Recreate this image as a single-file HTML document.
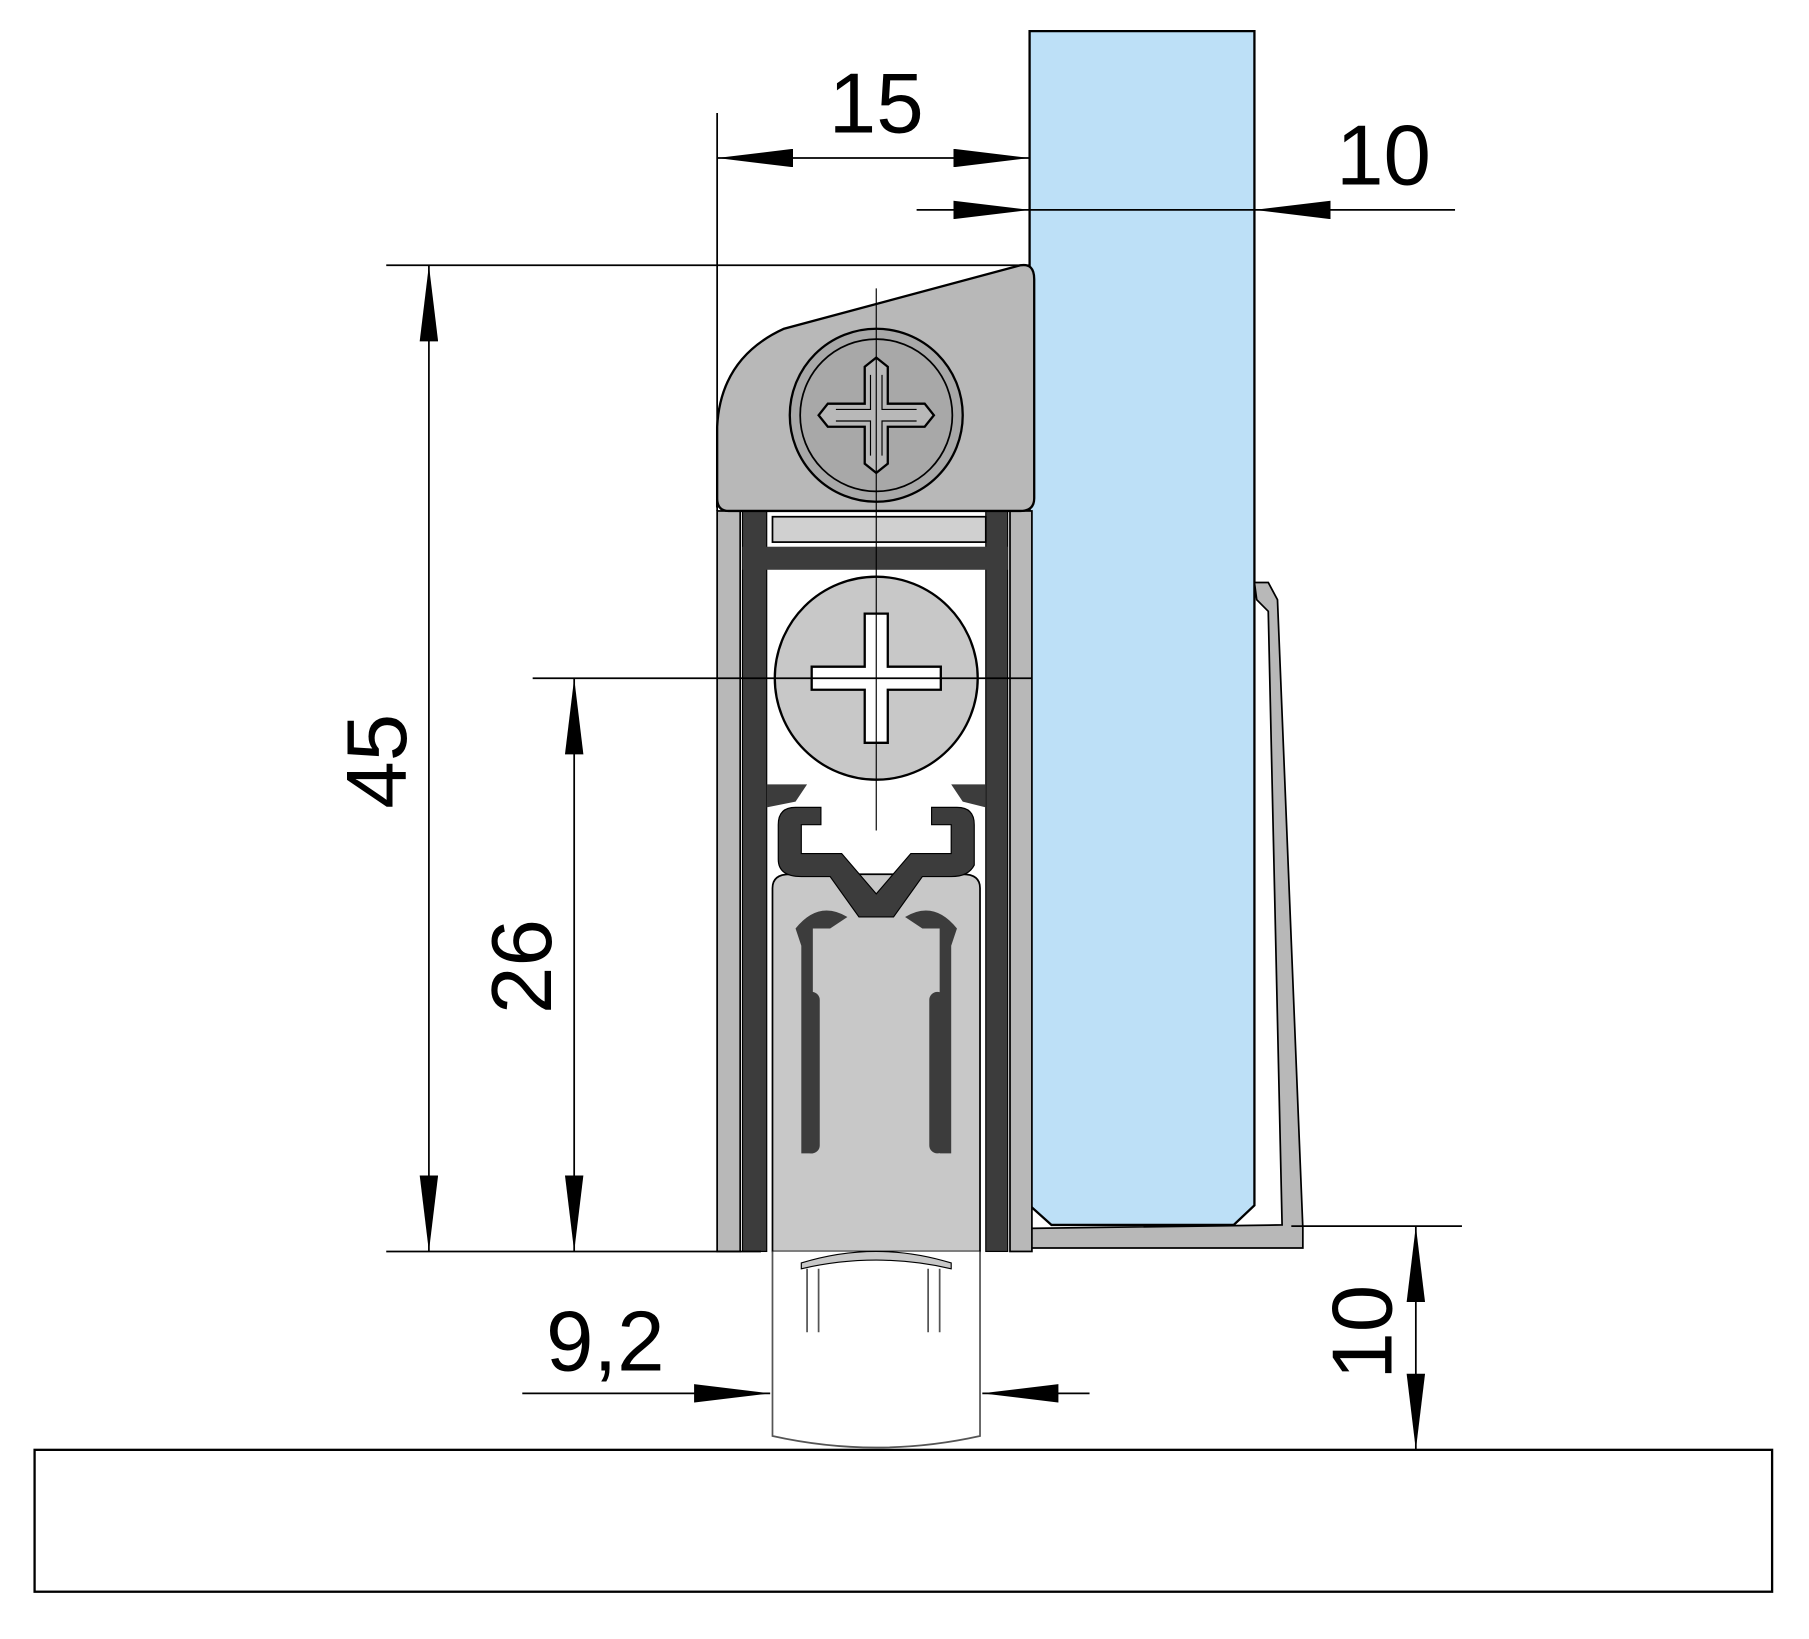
<!DOCTYPE html>
<html><head><meta charset="utf-8"><style>
html,body{margin:0;padding:0;background:#fff}
svg{display:block}
text{font-family:"Liberation Sans",sans-serif;font-size:74px;fill:#000}
</style></head><body>
<svg width="1809" height="1639" viewBox="0 0 1569 1421" preserveAspectRatio="none" xmlns="http://www.w3.org/2000/svg">
<defs>
<marker id="a" viewBox="0 0 66 16" refX="66" refY="8" markerWidth="66" markerHeight="16" markerUnits="userSpaceOnUse" orient="auto-start-reverse"><path d="M0,0 L66,8 L0,16 z" fill="#000"/></marker>
</defs>
<rect x="30" y="1257" width="1507" height="123" fill="#fff" stroke="#000" stroke-width="2"/>
<path d="M893,27 H1088 V1045 L1070,1062 H912 L893,1045 Z" fill="#bde0f7" stroke="#000" stroke-width="2"/>
<path d="M1088,505 L1100,505 L1108,520 L1130,1065 L1130,1082 L880,1082 L880,1065 L893,1065 L1112,1062 L1100,530 L1090,520 Z" fill="#b8b8b8" stroke="#000" stroke-width="1.5"/>
<rect x="622" y="443" width="20" height="642" fill="#b8b8b8" stroke="#000" stroke-width="1.5"/>
<rect x="876" y="443" width="19" height="642" fill="#b8b8b8" stroke="#000" stroke-width="1.5"/>
<rect x="644" y="443" width="21" height="642" fill="#3c3c3c" stroke="#000" stroke-width="1"/>
<rect x="855" y="443" width="19" height="642" fill="#3c3c3c" stroke="#000" stroke-width="1"/>
<rect x="644" y="474" width="230" height="20" fill="#3c3c3c"/>
<rect x="670" y="448" width="185" height="22" fill="#d0d0d0" stroke="#000" stroke-width="1.5"/>
<path d="M665,680 L700,680 L690,695 L665,700 Z M855,680 L825,680 L835,695 L855,700 Z" fill="#3c3c3c"/>
<circle cx="760" cy="588" r="88" fill="#c8c8c8" stroke="#000" stroke-width="2"/>
<path d="M750,532 H770 V578 H816 V598 H770 V644 H750 V598 H704 V578 H750 Z" fill="#fff" stroke="#000" stroke-width="2"/>
<path d="M670,770 Q670,758 685,758 H835 Q850,758 850,770 V1085 H670 Z" fill="#c8c8c8" stroke="#000" stroke-width="1.5"/>
<path d="M670,1085 V1245 Q760,1265 850,1245 V1085" fill="#fff" stroke="#555" stroke-width="1.5"/>
<path d="M695,1095 Q760,1075 825,1095 V1100 Q760,1085 695,1100 Z" fill="#c8c8c8" stroke="#000" stroke-width="1"/>
<path d="M700,1100 V1155 M710,1100 V1155 M805,1100 V1155 M815,1100 V1155" stroke="#555" stroke-width="1.5"/>
<path d="M675,715 Q675,700 690,700 H712 V715 H695 V740 H730 L760,775 L790,740 H825 V715 H808 V700 H830 Q845,700 845,715 V750 Q840,760 825,760 H800 L775,795 H745 L720,760 H695 Q675,760 675,745 Z" fill="#3c3c3c" stroke="#000" stroke-width="1"/>
<path d="M690,805 Q710,780 735,795 L720,805 H705 V1000 H695 V820 Z M830,805 Q810,780 785,795 L800,805 H815 V1000 H825 V820 Z" fill="#3c3c3c"/>
<rect x="697" y="860" width="14" height="140" rx="7" fill="#3c3c3c"/>
<rect x="806" y="860" width="14" height="140" rx="7" fill="#3c3c3c"/>
<path d="M622,440 V370 Q625,310 680,285 L885,230 Q897,228 897,242 V432 Q897,443 885,443 H632 Q622,443 622,432 Z" fill="#b8b8b8" stroke="#000" stroke-width="2"/>
<circle cx="760" cy="360" r="75" fill="#a8a8a8" stroke="#000" stroke-width="2"/>
<circle cx="760" cy="360" r="66" fill="#a8a8a8" stroke="#000" stroke-width="1.5"/>
<path d="M750,318 L760,310 L770,318 V350 H802 L810,360 L802,370 H770 V402 L760,410 L750,402 V370 H718 L710,360 L718,350 H750 Z" fill="#b8b8b8" stroke="#000" stroke-width="2"/>
<path d="M755,325 V355 H725 M765,325 V355 H795 M755,395 V365 H725 M765,395 V365 H795" fill="none" stroke="#000" stroke-width="1"/>
<g stroke="#000" stroke-width="1.5" fill="none">
<line x1="622" y1="98" x2="622" y2="443"/>
<line x1="622" y1="137" x2="893" y2="137" marker-start="url(#a)" marker-end="url(#a)"/>
<line x1="795" y1="182" x2="893" y2="182" marker-end="url(#a)"/>
<line x1="1262" y1="182" x2="1088" y2="182" marker-end="url(#a)"/>
<line x1="893" y1="182" x2="1088" y2="182"/>
<line x1="335" y1="230" x2="893" y2="230"/>
<line x1="335" y1="1085" x2="660" y2="1085"/>
<line x1="372" y1="230" x2="372" y2="1085" marker-start="url(#a)" marker-end="url(#a)"/>
<line x1="462" y1="588" x2="895" y2="588"/>
<line x1="498" y1="588" x2="498" y2="1085" marker-start="url(#a)" marker-end="url(#a)"/>
<line x1="453" y1="1208" x2="668" y2="1208" marker-end="url(#a)"/>
<line x1="945" y1="1208" x2="852" y2="1208" marker-end="url(#a)"/>
<line x1="1120" y1="1063" x2="1268" y2="1063"/>
<line x1="1228" y1="1063" x2="1228" y2="1257" marker-start="url(#a)" marker-end="url(#a)"/>
<line x1="760" y1="250" x2="760" y2="720" stroke-width="1"/>
</g>
<text x="760" y="115" text-anchor="middle">15</text>
<text x="1200" y="160" text-anchor="middle">10</text>
<text x="525" y="1188" text-anchor="middle">9,2</text>
<text transform="translate(352,660) rotate(-90)" text-anchor="middle">45</text>
<text transform="translate(478,838) rotate(-90)" text-anchor="middle">26</text>
<text transform="translate(1207,1155) rotate(-90)" text-anchor="middle">10</text>
</svg>
</body></html>
